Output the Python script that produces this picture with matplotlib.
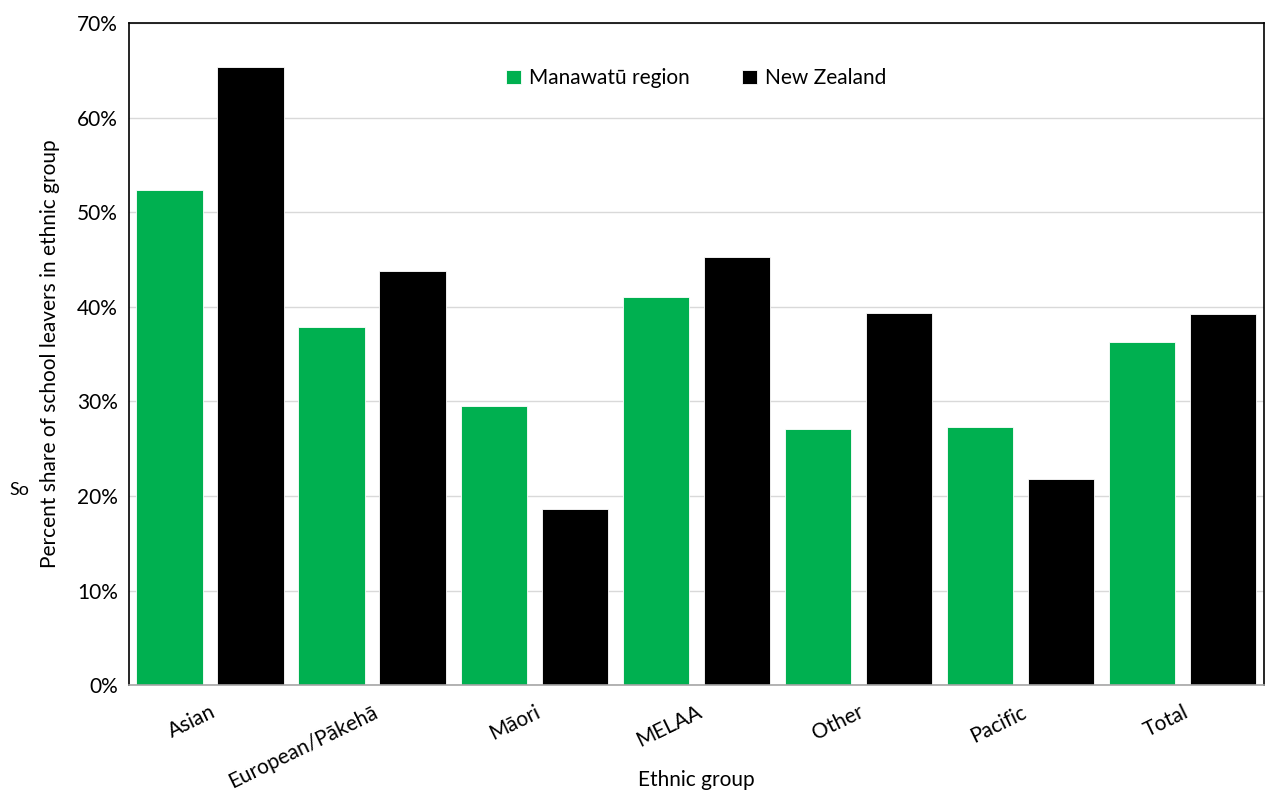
import matplotlib
matplotlib.use("Agg")
import matplotlib.pyplot as plt
import numpy as np
from matplotlib.ticker import PercentFormatter

plt.rcParams['font.family'] = ['Lato', 'DejaVu Sans']

groups = ["Asian", "European/Pākehā", "Māori", "MELAA", "Other", "Pacific", "Total"]
manawatu = [52.3, 37.9, 29.5, 41.0, 27.1, 27.3, 36.3]
new_zealand = [65.3, 43.8, 18.6, 45.3, 39.4, 21.8, 39.2]

green = "#00B050"
x = np.arange(len(groups))
w = 0.41

fig = plt.figure(figsize=(12.65, 7.94), dpi=100)
ax = fig.add_axes([0.102, 0.137, 0.897, 0.834])
ax.bar(x - 0.25, manawatu, w, color=green, edgecolor="white", linewidth=0.6, label="Manawatū region", zorder=2)
ax.bar(x + 0.25, new_zealand, w, color="black", edgecolor="white", linewidth=0.6, label="New Zealand", zorder=2)

ax.set_xlim(-0.5, len(groups) - 0.5)
ax.set_ylim(0, 70)
ax.set_yticks(np.arange(0, 71, 10))
ax.yaxis.set_major_formatter(PercentFormatter(decimals=0))
ax.grid(axis="y", color="#d9d9d9", lw=1, zorder=0)
ax.set_axisbelow(True)
for s in ["top", "left", "right"]:
    ax.spines[s].set_color("black"); ax.spines[s].set_linewidth(1.2)
ax.spines["bottom"].set_color("#a6a6a6"); ax.spines["bottom"].set_linewidth(1.2)

ax.set_xticks(x)
ax.set_xticklabels(groups, rotation=26, ha="right", rotation_mode="anchor", fontsize=15)
ax.tick_params(axis="x", length=0, pad=12)
ax.tick_params(axis="y", length=0, labelsize=15, pad=8)
ax.set_xlabel("Ethnic group", fontsize=15)
ax.xaxis.set_label_coords(0.5, -0.128)
ax.set_ylabel("Percent share of school leavers in ethnic group", fontsize=15, labelpad=12)
fig.text(0.015, 0.383, "So", fontsize=13, ha="center", va="center")

ax.legend(loc="upper center", bbox_to_anchor=(0.5, 0.96), ncol=2, frameon=False, fontsize=15,
          handlelength=0.7, handleheight=0.7, columnspacing=2.5, handletextpad=0.4)

fig.savefig("out.png", dpi=100)
